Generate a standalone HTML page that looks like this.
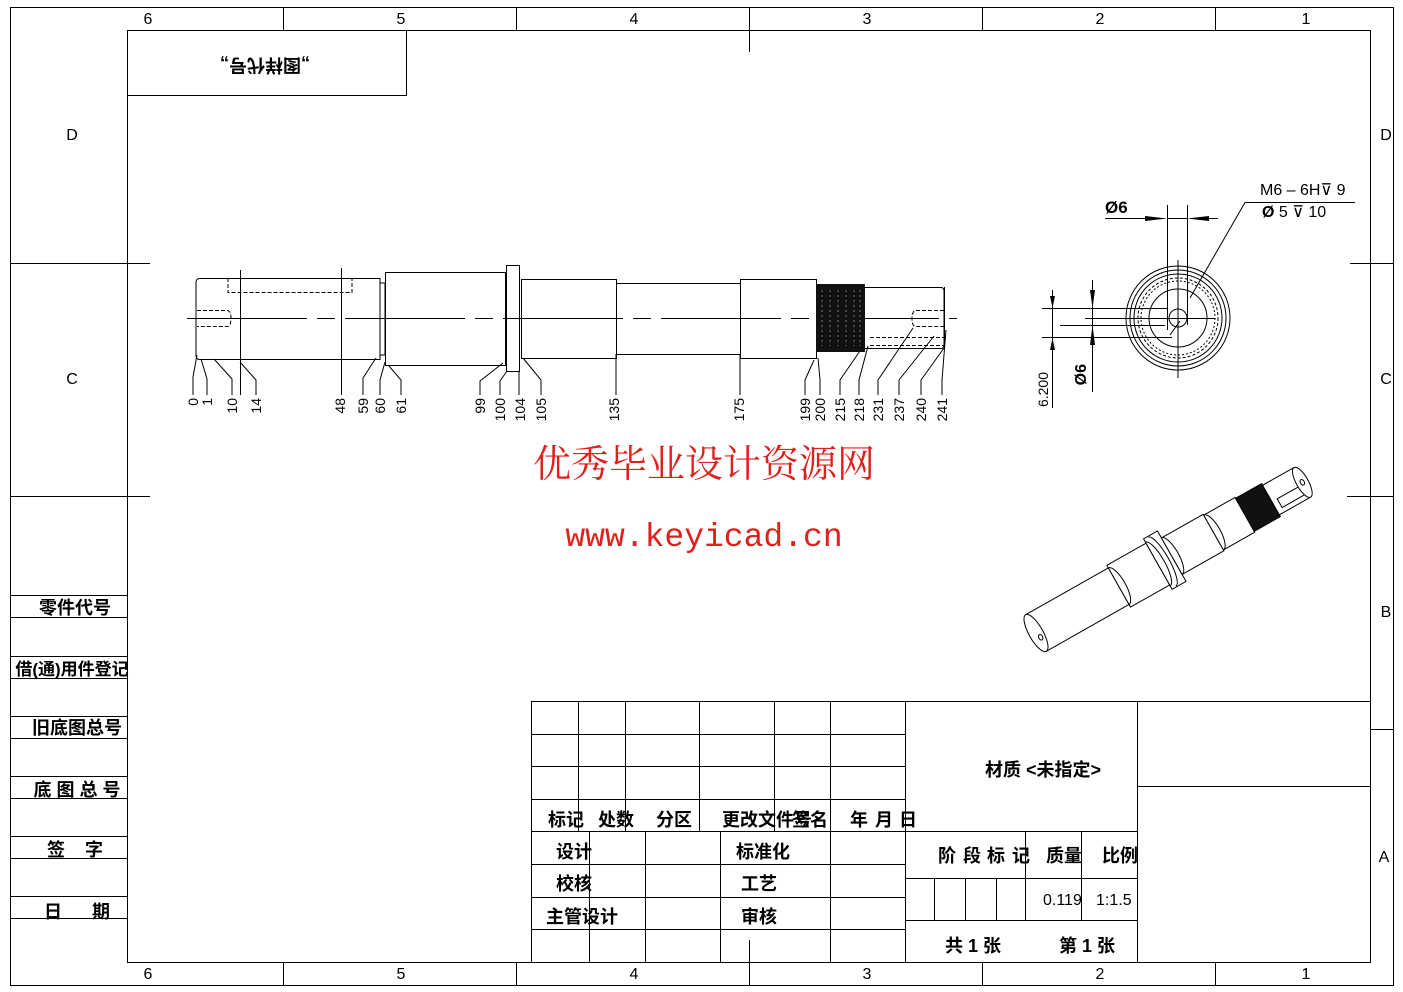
<!DOCTYPE html>
<html><head><meta charset="utf-8"><style>
html,body{margin:0;padding:0;background:#fff;}
svg{display:block;}
text{font-family:"Liberation Sans","Noto Sans CJK SC",sans-serif;fill:#000;}
.cn{font-family:"Liberation Sans","Noto Sans CJK SC",sans-serif;font-weight:bold;font-size:18px;}
</style></head><body>
<svg width="1403" height="992" viewBox="0 0 1403 992" xmlns="http://www.w3.org/2000/svg">
<g stroke="#000" stroke-width="1" fill="none">
<rect x="10.5" y="7.5" width="1383" height="978"/>
<rect x="127.5" y="30.5" width="1243" height="932"/>
<path d="M283.5 7v23M516.5 7v23M749.5 7v23M982.5 7v23M1215.5 7v23"/>
<path d="M283.5 962v23M516.5 962v23M749.5 962v23M982.5 962v23M1215.5 962v23"/>
<path d="M749.5 30v22M749.5 940v22"/>
<path d="M10 263.5h140M10 496.5h140M1350 263.5h43M1347 496.5h46M1370 729.5h23"/>
<path d="M127 95.5h279.5V30"/>
<path d="M10 595.5h117M10 617.5h117M10 656.5h117M10 678.5h117M10 716.5h117M10 738.5h117M10 776.5h117M10 798.5h117M10 836.5h117M10 858.5h117M10 896.5h117M10 918.5h117"/>
</g>
<g font-size="16" text-anchor="middle">
<text x="148" y="24">6</text><text x="401" y="24">5</text><text x="634" y="24">4</text><text x="867" y="24">3</text><text x="1100" y="24">2</text><text x="1306" y="24">1</text>
<text x="148" y="979">6</text><text x="401" y="979">5</text><text x="634" y="979">4</text><text x="867" y="979">3</text><text x="1100" y="979">2</text><text x="1306" y="979">1</text>
<text x="72" y="140">D</text><text x="72" y="384">C</text>
<text x="1386" y="140">D</text><text x="1386" y="384">C</text><text x="1386" y="617">B</text><text x="1384" y="862">A</text>
</g>
<text class="cn" x="0" y="0" text-anchor="middle" transform="translate(265 59) rotate(180)">„图样代号„</text>
<g class="cn" text-anchor="middle">
<text x="75" y="614">零件代号</text>
<text x="72" y="675" font-size="17">借(通)用件登记</text>
<text x="77" y="734">旧底图总号</text>
<text x="77" y="796">底 图 总 号</text>
<text x="75" y="856">签 &#160; &#160;字</text>
<text x="77" y="918">日 &#160; &#160; &#160;期</text>
</g>

<g stroke="#000" stroke-width="1" fill="none">
<path d="M187 318.5h770" stroke-dasharray="120 10 18 10"/>
<path d="M200 278.5h180v81H200q-4 0-4-4v-73q0-4 4-4z"/>
<path d="M380 283h5v72h-5"/>
<rect x="385.5" y="272.5" width="120" height="93"/>
<rect x="506.5" y="265.5" width="13" height="106"/>
<rect x="521.5" y="279.5" width="95" height="79"/>
<rect x="616.5" y="283.5" width="124" height="71"/>
<rect x="740.5" y="279.5" width="76" height="79"/>
<path d="M865 287.5h76q3 0 3 4v53q0 4-3 4h-76"/>
<path d="M944.5 287v61"/>
<path d="M228 278v14.5h124V278M197 310.5h30q4 0 4 8t-4 8h-30M944 310.5h-28q-4 0-4 8t4 8h28M870 337.5h74M870 345.5h74" stroke-dasharray="4 2"/>
<path d="M240.5 270v125M341.5 268v127"/>
<path d="M197 355l-4 22v18M201 359l6 20v16M214 359l18 20v16M240 362l16 18v15M376 358l-13 20v17M385 362l-5 18v15M389 366l12 14v15M503 363l-23 18v14M507 371l-7 10v14M519 371v24M523 358l18 22v15M616 354v41M740 354v41M814 360l-9 20v15M818 358l2 22v15M862 348l-22 32v15M868 346l-9 34v15M913 328l-35 52v15M934 336l-35 44v15M944 348l-23 32v15M946 330l-4 50v15"/>
</g>
<rect x="816" y="284" width="49" height="68" fill="#111"/>
<g stroke="#777" stroke-width="1" fill="none" stroke-dasharray="2 3"><path d="M822 290v56M830 290v56M838 290v56M846 290v56M854 290v56M860 290v56"/></g>
<g font-size="14" text-anchor="end">
<g transform="rotate(-90)">
<text x="-398" y="198">0</text><text x="-398" y="212">1</text><text x="-398" y="237">10</text><text x="-398" y="261">14</text>
<text x="-398" y="345">48</text><text x="-398" y="368">59</text><text x="-398" y="385">60</text><text x="-398" y="406">61</text>
<text x="-398" y="485">99</text><text x="-398" y="505">100</text><text x="-398" y="525">104</text><text x="-398" y="546">105</text>
<text x="-398" y="619">135</text><text x="-398" y="744">175</text>
<text x="-398" y="810">199</text><text x="-398" y="825">200</text><text x="-398" y="845">215</text><text x="-398" y="864">218</text><text x="-398" y="883">231</text><text x="-398" y="904">237</text><text x="-398" y="926">240</text><text x="-398" y="947">241</text>
</g></g>
<g text-anchor="end" font-size="14" transform="rotate(-90)">
<text x="-372" y="1048">6.200</text>
<text x="-364" y="1086" font-weight="bold" font-size="16">Ø6</text>
</g>

<g stroke="#000" stroke-width="1" fill="none">
<circle cx="1178" cy="318" r="52"/><circle cx="1178" cy="318" r="48"/><circle cx="1178" cy="318" r="44"/>
<circle cx="1178" cy="318" r="40" stroke-dasharray="3 2"/><circle cx="1178" cy="318" r="37" stroke-dasharray="2 2"/>
<circle cx="1178" cy="318" r="29"/><circle cx="1178" cy="318" r="9"/>
<path d="M1085 318.5h130M1178 260v118M1167.5 205v125M1187.5 205v120"/>
<path d="M1105 218.5h40M1167 218.5h20M1200 218.5h18"/>
<path d="M1042 308.5h125M1060 325.5h105M1042 337.5h130M1052.5 290v118M1092.5 280v112"/>
<path d="M1355 202.5h-110L1190 298M1170 335l10 -14"/>
</g>
<g fill="#000"><path d="M1145 216l22 2.5-22 2.5z"/><path d="M1209 216l-22 2.5 22 2.5z"/><path d="M1050 296l2.5 12 2.5-12zM1050 350l2.5-12 2.5 12zM1090 290l2.5 18 2.5-18zM1090 345l2.5-20 2.5 20z"/></g>
<text x="1105" y="213" font-size="17" font-weight="bold">Ø6</text>
<text x="1260" y="195" font-size="16">M6 – 6H⊽ 9</text>
<text x="1262" y="217" font-size="16"><tspan font-weight="bold">Ø</tspan> 5 ⊽ 10</text>

<text x="704" y="477" font-size="38" text-anchor="middle" style="fill:#e0201c;font-family:'Liberation Serif','Noto Serif CJK SC',serif">优秀毕业设计资源网</text>
<text x="704" y="546" font-size="33" text-anchor="middle" style="fill:#e0201c;font-family:'Liberation Mono',monospace">www.keyicad.cn</text>

<g transform="translate(1036 633) rotate(-29.5)" stroke="#000" stroke-width="1" fill="#fff">
<path d="M0 -21h95v42H0z"/><ellipse cx="0" cy="0" rx="7" ry="21"/>
<ellipse cx="2" cy="6" rx="2" ry="3" fill="none"/>
<path d="M95 -24h45v48H95z"/><path d="M95 -21a7 21 0 0 1 0 42" fill="none"/>
<path d="M140 -29h16v58h-16z"/><path d="M140 -25a7 25 0 0 1 0 50M145 -28a7 28 0 0 1 0 56" fill="none"/>
<path d="M156 -21h48v42h-48z"/><path d="M156 -21a7 21 0 0 1 0 42" fill="none"/>
<path d="M204 -20h36v40h-36z"/><path d="M204 -20a7 20 0 0 1 0 40" fill="none"/>
<path d="M240 -19h30v38h-30z" fill="#111"/>
<path d="M270 -17h36v34h-36z"/><path d="M276 2h26v10h-26z" fill="none"/><ellipse cx="306" cy="0" rx="6" ry="17"/>
<ellipse cx="306" cy="0" rx="2" ry="3" fill="none"/>
</g>

<g stroke="#000" stroke-width="1" fill="none">
<path d="M531.5 701v261M531 701.5h839M531 734.5h374M531 766.5h374M531 799.5h374M531 831.5h606M531 864.5h374M531 897.5h374M531 929.5h374"/>
<path d="M578.5 701v130M625.5 701v130M699.5 701v130M774.5 701v130M830.5 701v130M905.5 701v261"/>
<path d="M589.5 831v131M645.5 831v131M720.5 831v131M830.5 831v131"/>
<path d="M905 878.5h232M905 920.5h232M934.5 878v42M965.5 878v42M996.5 878v42M1025.5 831v89M1081.5 831v89M1137.5 701v261M1137 786.5h233"/>
</g>
<g class="cn">
<text x="548" y="826">标记</text><text x="598" y="826">处数</text><text x="656" y="826">分区</text>
<text x="722" y="826">更改文件号</text><text x="792" y="826">签名</text><text x="850" y="826">年</text><text x="875" y="826">月</text><text x="899" y="826">日</text>
<text x="556" y="858">设计</text><text x="556" y="890">校核</text><text x="546" y="923">主管设计</text>
<text x="736" y="858">标准化</text><text x="741" y="890">工艺</text><text x="741" y="923">审核</text>
<text x="985" y="776">材质 &lt;未指定&gt;</text>
<text x="938" y="862">阶</text><text x="963" y="862">段</text><text x="987" y="862">标</text><text x="1012" y="862">记</text>
<text x="1046" y="862">质量</text><text x="1102" y="862">比例</text>
<text x="945" y="952">共 1 张</text><text x="1059" y="952">第 1 张</text>
</g>
<text x="1043" y="905" font-size="16">0.119</text><text x="1096" y="905" font-size="16">1:1.5</text>
</svg>
</body></html>
